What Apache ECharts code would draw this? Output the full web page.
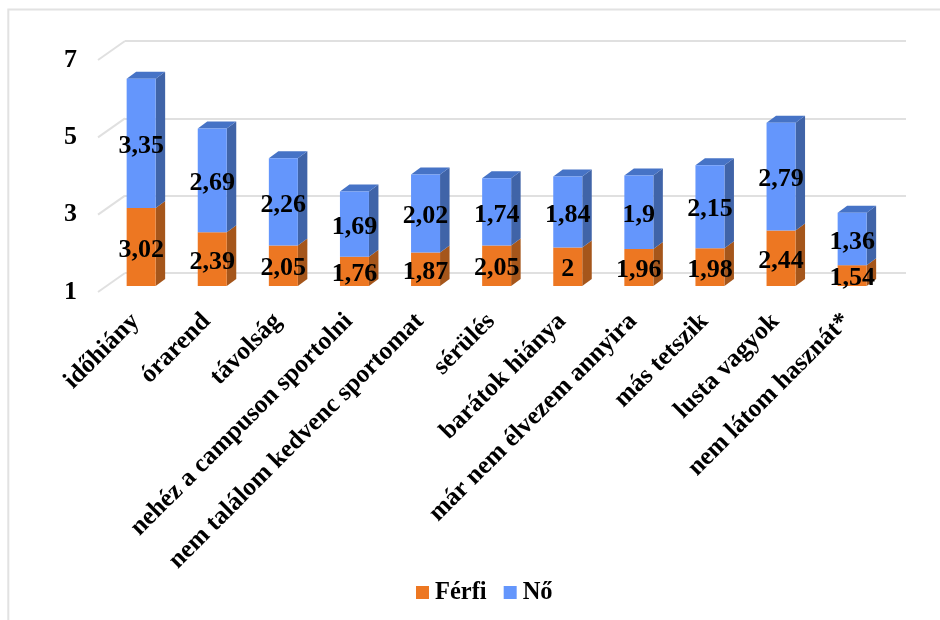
<!DOCTYPE html>
<html>
<head>
<meta charset="utf-8">
<style>html,body{margin:0;padding:0;background:#fff}#c{width:940px;height:620px}</style>
<script src="https://cdn.jsdelivr.net/npm/echarts@6/dist/echarts.min.js"></script>
</head>
<body>
<div id="c"></div>
<script>
const categories = ['időhiány','órarend','távolság','nehéz a campuson sportolni','nem találom kedvenc sportomat','sérülés','barátok hiánya','már nem élvezem annyira','más tetszik','lusta vagyok','nem látom hasznát*'];
const ferfi = [3.02,2.39,2.05,1.76,1.87,2.05,2,1.96,1.98,2.44,1.54];
const no = [3.35,2.69,2.26,1.69,2.02,1.74,1.84,1.9,2.15,2.79,1.36];
const yTicks = [1,3,5,7];

const FONT = '"Liberation Serif","Times New Roman",serif';
const depthX = 9.5, depthY = 7, barW = 29;
const wallDX = 27, wallDY = 19;
const fmt = p => String(p.value).replace('.', ',');
const dataLabel = {show:true, position:'inside', offset:[0,3], formatter:fmt, fontFamily:FONT, fontWeight:'bold', fontSize:26, color:'#000'};

function depthRender(sideColor, topColor){
  return function(params, api){
    const i = api.value(0);
    const hi = api.coord([i, api.value(1)]);
    const lo = api.coord([i, api.value(2)]);
    const rx = hi[0] + barW/2, lx = hi[0] - barW/2;
    const children = [{
      type:'polygon',
      shape:{points:[[rx,hi[1]],[rx+depthX,hi[1]-depthY],[rx+depthX,lo[1]-depthY],[rx,lo[1]]]},
      style:{fill:sideColor}
    }];
    if(topColor){
      children.push({
        type:'polygon',
        shape:{points:[[lx,hi[1]],[lx+depthX,hi[1]-depthY],[rx+depthX,hi[1]-depthY],[rx,hi[1]]]},
        style:{fill:topColor}
      });
    }
    return {type:'group', children};
  };
}

const chart = echarts.init(document.getElementById('c'), null, {renderer:'canvas'});
const hiddenCat = idx => ({type:'category', gridIndex:idx, data:categories, show:false});
chart.setOption({
  backgroundColor:'#fff',
  animation:false,
  textStyle:{fontFamily:FONT},
  graphic:[{type:'polyline', silent:true, shape:{points:[[8.3,620],[8.3,9.5],[940,9.5]]}, style:{fill:null, stroke:'#e2e2e2', lineWidth:2}}],
  legend:{
    data:['Férfi','Nő'], left:416, top:580, padding:0, icon:'rect', itemWidth:13, itemHeight:13, itemGap:17,
    textStyle:{fontFamily:FONT, fontWeight:'bold', fontSize:24.5, color:'#000', padding:[0,0,0,1]}
  },
  grid:[
    {left:105.6, width:782.1, top:54.4, height:231.6},
    {left:125, width:781, top:41, height:232},
    {left:98, width:10, top:60, height:232}
  ],
  xAxis:[
    {type:'category', gridIndex:0, data:categories, axisLine:{show:false}, axisTick:{show:false},
     axisLabel:{interval:0, rotate:45, fontFamily:FONT, fontWeight:'bold', fontSize:25.5, color:'#000', margin:26, padding:[0,8,0,0]}},
    hiddenCat(1),
    hiddenCat(2)
  ],
  yAxis:[
    {type:'value', gridIndex:0, min:1, max:7, interval:2, show:false},
    {type:'value', gridIndex:1, min:1, max:7, interval:2, axisLine:{show:false}, axisTick:{show:false}, axisLabel:{show:false},
     splitLine:{show:true, lineStyle:{color:'#e0e0e0', width:2}}},
    {type:'value', gridIndex:2, min:1, max:7, interval:2, axisLine:{show:false}, axisTick:{show:false}, splitLine:{show:false},
     axisLabel:{fontFamily:FONT, fontWeight:'bold', fontSize:26, color:'#000', margin:21, padding:[7,0,0,0]}}
  ],
  series:[
    {type:'custom', name:'floor', xAxisIndex:2, yAxisIndex:2, z:1, silent:true, clip:false,
     data:yTicks.map(t=>[0,t]),
     renderItem:(params, api)=>{
       const p = api.coord([0, api.value(1)]);
       const x0 = params.coordSys.x;
       return {type:'line', shape:{x1:x0, y1:p[1], x2:x0+wallDX, y2:p[1]-wallDY}, style:{stroke:'#e0e0e0', lineWidth:2}};
     }},
    {type:'custom', name:'ferfiDepth', xAxisIndex:0, yAxisIndex:0, z:3, silent:true, clip:false,
     data:ferfi.map((v,i)=>[i, v, 1]), renderItem:depthRender('#A5561B', null)},
    {type:'custom', name:'noDepth', xAxisIndex:0, yAxisIndex:0, z:3, silent:true, clip:false,
     data:no.map((v,i)=>[i, ferfi[i]+v, ferfi[i]]), renderItem:depthRender('#4064A8', '#4673C6')},
    {type:'bar', name:'Férfi', xAxisIndex:0, yAxisIndex:0, stack:'a', barWidth:barW, z:4, data:ferfi,
     itemStyle:{color:'#ED7722'}, label:dataLabel},
    {type:'bar', name:'Nő', xAxisIndex:0, yAxisIndex:0, stack:'a', barWidth:barW, z:4, data:no,
     itemStyle:{color:'#6496FC'}, label:dataLabel}
  ]
});
</script>
</body>
</html>
